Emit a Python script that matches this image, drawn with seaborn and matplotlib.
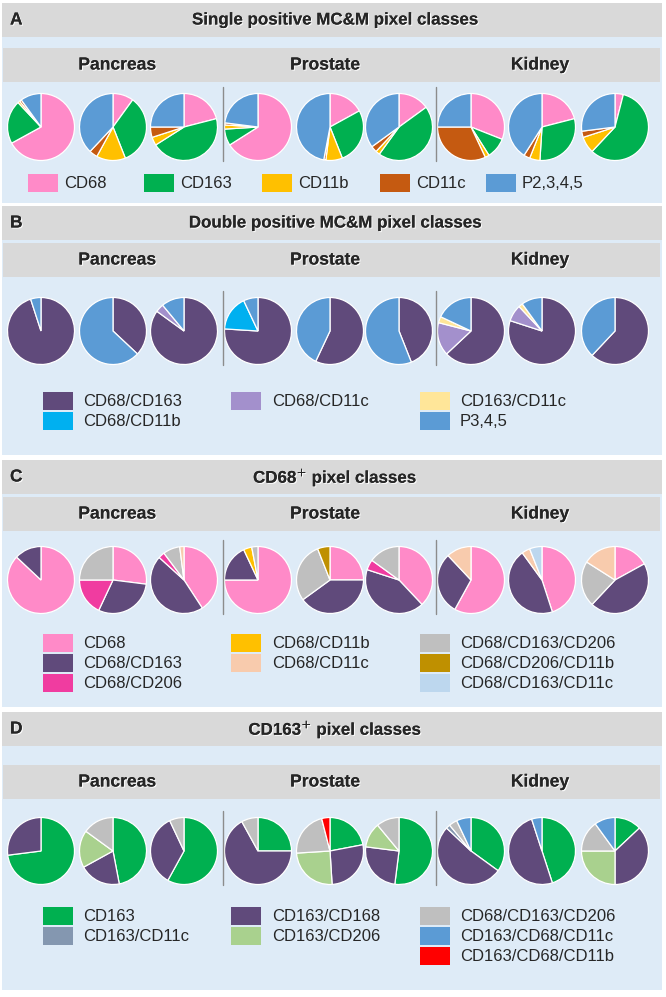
import matplotlib
matplotlib.use("Agg")
import matplotlib.pyplot as plt
import matplotlib.patches as mpatches
import matplotlib.patheffects as pe
import seaborn as sns

sns.set_style("white")
plt.rcParams["font.family"] = ["Liberation Sans", "DejaVu Sans"]

# ---- data ----
tissues = ["Pancreas", "Prostate", "Kidney"]

# panel A: single positive
labels_a = ["CD68", "CD163", "CD11b", "CD11c", "P2,3,4,5"]
colors_a = ["#ff8ac8", "#00b050", "#ffc000", "#c55a11", "#5b9bd5"]
values_a = [
    [67, 21, 1, 1, 10],
    [10, 34, 14, 4, 38],
    [21, 45, 4, 5, 25],
    [66, 8, 2, 1, 23],
    [17, 27, 8, 1, 47],
    [15, 45, 2, 3, 35],
    [31, 10, 2, 32, 25],
    [21, 30, 5, 3, 41],
    [4, 58, 8, 3, 27],
]

# panel B: double positive
labels_b = ["CD68/CD163", "CD68/CD11b", "CD68/CD11c", "CD163/CD11c", "P3,4,5"]
colors_b = ["#604a7b", "#00b0f0", "#a390cc", "#ffe699", "#5b9bd5"]
values_b = [
    [95, 0, 0, 0, 5],
    [37, 0, 0, 0, 63],
    [85, 0, 4, 0, 11],
    [76, 17, 0, 0, 7],
    [57, 0, 0, 0, 43],
    [44, 0, 0, 0, 56],
    [63, 0, 16, 3, 18],
    [80, 0, 8, 2, 10],
    [62, 0, 0, 0, 38],
]

# panel C: CD68+ (slice order as drawn clockwise)
labels_c = ["CD68", "CD68/CD163", "CD68/CD206", "CD68/CD11b",
            "CD68/CD163/CD206", "CD68/CD206/CD11b", "CD68/CD11c", "CD68/CD163/CD11c"]
colors_c = ["#ff8ac8", "#604a7b", "#f03ca0", "#ffc000",
            "#bfbfbf", "#bf9000", "#f8cbad", "#bdd7ee"]
values_c = [
    [87, 13, 0, 0, 0, 0, 0, 0],
    [27, 30, 18, 0, 25, 0, 0, 0],
    [40, 45, 3, 0, 8, 0, 2, 0],
    [75, 18, 0, 4, 3, 0, 0, 0],
    [25, 40, 0, 0, 29, 6, 0, 0],
    [38, 42, 5, 0, 15, 0, 0, 0],
    [58, 30, 0, 0, 0, 0, 12, 0],
    [45, 45, 0, 0, 0, 0, 4, 6],
    [17, 45, 0, 0, 22, 0, 16, 0],
]

# panel D: CD163+ (slice order as drawn clockwise)
labels_d = ["CD163", "CD163/CD168", "CD163/CD11c", "CD163/CD206",
            "CD68/CD163/CD206", "CD163/CD68/CD11c", "CD163/CD68/CD11b"]
colors_d = ["#00b050", "#604a7b", "#8497b0", "#a9d18e",
            "#bfbfbf", "#5b9bd5", "#ff0000"]
values_d = [
    [73, 27, 0, 0, 0, 0, 0],
    [47, 20, 0, 18, 15, 0, 0],
    [58, 35, 0, 0, 7, 0, 0],
    [25, 67, 0, 0, 8, 0, 0],
    [22, 27, 0, 25, 22, 0, 4],
    [52, 25, 0, 12, 11, 0, 0],
    [35, 52, 2, 0, 4, 7, 0],
    [45, 50, 0, 0, 0, 5, 0],
    [13, 37, 0, 25, 15, 10, 0],
]

# legend layouts: (label index, column, row)
legend_a = [(0, 0, 0), (1, 1, 0), (2, 2, 0), (3, 3, 0), (4, 4, 0)]
legend_b = [(0, 0, 0), (1, 0, 1), (2, 1, 0), (3, 2, 0), (4, 2, 1)]
legend_c = [(0, 0, 0), (1, 0, 1), (2, 0, 2), (3, 1, 0), (6, 1, 1),
            (4, 2, 0), (5, 2, 1), (7, 2, 2)]
legend_d = [(0, 0, 0), (2, 0, 1), (1, 1, 0), (3, 1, 1),
            (4, 2, 0), (5, 2, 1), (6, 2, 2)]

panels = [
    ("A", "Single positive MC&M pixel classes", values_a, colors_a, labels_a, legend_a,
     3, 48, 127, 183),
    ("B", "Double positive MC&M pixel classes", values_b, colors_b, labels_b, legend_b,
     206, 243, 331, 401),
    ("C", "CD68$^{+}$ pixel classes", values_c, colors_c, labels_c, legend_c,
     460, 497, 580, 643),
    ("D", "CD163$^{+}$ pixel classes", values_d, colors_d, labels_d, legend_d,
     712, 765, 851, 916),
]
panel_bottoms = [203, 455, 707, 990]

pie_x = [41, 113, 184, 258, 330, 399, 471, 542, 615]
tissue_x = [117, 325, 540]
radius = 33.5
grey = "#d9d9d9"
blue = "#deebf7"
glow = [pe.withSimplePatchShadow(offset=(0.8, -0.8), shadow_rgbFace="white", alpha=0.9),
        pe.Normal()]

fig = plt.figure(figsize=(6.66, 9.97), dpi=100)
ax = fig.add_axes([0, 0, 1, 1])

for (letter, title, vals, cols, labs, leg, y_head, y_sub, y_pie, y_leg), y_bot in zip(panels, panel_bottoms):
    # background box
    ax.add_patch(mpatches.Rectangle((2, y_head + 34), 660, y_bot - y_head - 34,
                                    facecolor=blue, edgecolor="none", zorder=0))
    # header bar
    ax.add_patch(mpatches.Rectangle((2, y_head), 660, 34, facecolor=grey,
                                    edgecolor="none", zorder=1))
    ax.text(10, y_head + 17, letter, fontsize=12.5, fontweight="bold", va="center",
            ha="left", path_effects=glow)
    ax.text(335, y_head + 17, title, fontsize=12.2, fontweight="bold", va="center",
            ha="center", path_effects=glow)
    # tissue bar
    ax.add_patch(mpatches.Rectangle((3, y_sub), 657, 34, facecolor=grey,
                                    edgecolor="none", zorder=1))
    for tx, tname in zip(tissue_x, tissues):
        ax.text(tx, y_sub + 17, tname, fontsize=12.6, fontweight="bold", va="center",
                ha="center", path_effects=glow)
    # dividers
    for dx in (223, 436):
        ax.plot([dx, dx], [y_pie - 40, y_pie + 34], color="#8c8c8c", lw=1, zorder=2)
    # pies
    for px, row in zip(pie_x, vals):
        v = [a for a in row if a > 0]
        c = [cc for a, cc in zip(row, cols) if a > 0]
        ax.pie(v, colors=c, center=(px, y_pie), radius=radius, startangle=-90,
               counterclock=True, frame=True,
               wedgeprops=dict(edgecolor="white", linewidth=0.9))
    # legend
    if letter == "A":
        col_patch = [28, 144, 262, 380, 486]
        col_text = [64, 180, 298, 416, 522]
        dy = 0
    else:
        col_patch = [43, 231, 420]
        col_text = [83, 272, 460]
        dy = 20
    for idx, ci, ri in leg:
        yy = y_leg + ri * dy
        ax.add_patch(mpatches.Rectangle((col_patch[ci], yy - 9), 30, 18,
                                        facecolor=cols[idx], edgecolor="none", zorder=2))
        ax.text(col_text[ci], yy, labs[idx], fontsize=12, va="center", ha="left")

ax.set_xlim(0, 666)
ax.set_ylim(997, 0)
ax.set_aspect("auto")
ax.axis("off")

fig.savefig("out.png", dpi=100, facecolor="white")
